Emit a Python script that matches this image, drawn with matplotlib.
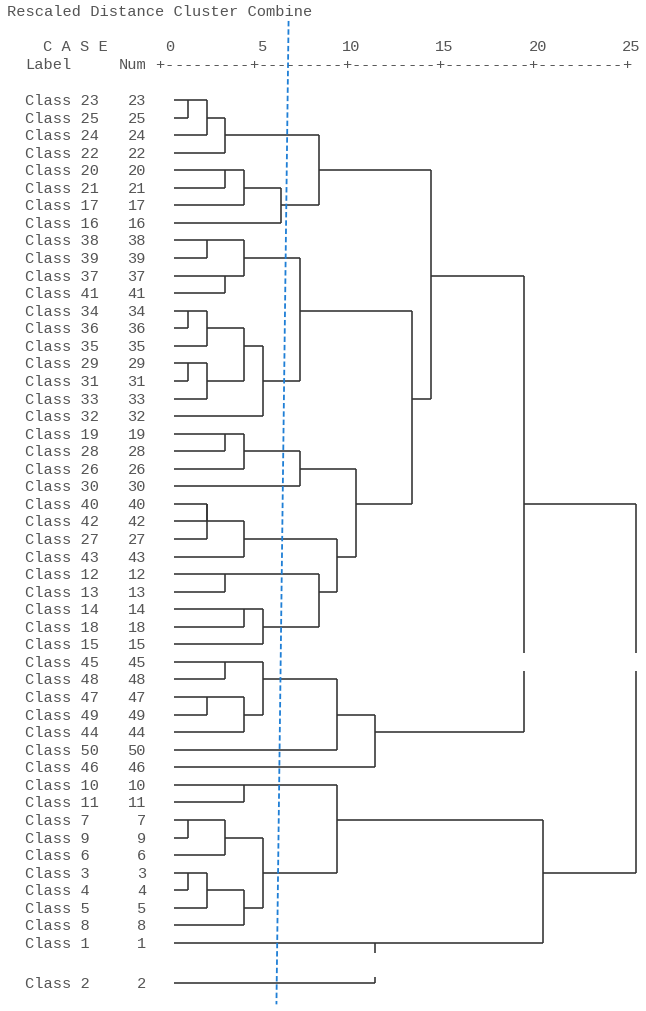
import matplotlib
matplotlib.use("Agg")
import matplotlib.pyplot as plt
import numpy as np

# ---------------- data ----------------
leaf_order = [23, 25, 24, 22, 20, 21, 17, 16, 38, 39, 37, 41, 34, 36, 35, 29, 31, 33, 32,
              19, 28, 26, 30, 40, 42, 27, 43, 12, 13, 14, 18, 15, 45, 48, 47, 49, 44, 50,
              46, 10, 11, 7, 9, 6, 3, 4, 5, 8, 1, 2]

# merges: (child a, child b, rescaled distance); "mK" refers to the K-th merge
merges = [
    ("23", "25", 1.5), ("m0", "24", 2.5), ("m1", "22", 3.5),
    ("20", "21", 3.5), ("m3", "17", 4.5), ("m4", "16", 6.5),
    ("m2", "m5", 8.5),
    ("38", "39", 2.5), ("37", "41", 3.5), ("m7", "m8", 4.5),
    ("34", "36", 1.5), ("m10", "35", 2.5), ("29", "31", 1.5), ("m12", "33", 2.5),
    ("m11", "m13", 4.5), ("m14", "32", 5.5), ("m9", "m15", 7.5),
    ("19", "28", 3.5), ("m17", "26", 4.5), ("m18", "30", 7.5),
    ("40", "42", 2.5), ("m20", "27", 2.5), ("m21", "43", 4.5),
    ("12", "13", 3.5), ("14", "18", 4.5), ("m24", "15", 5.5), ("m23", "m25", 8.5),
    ("m22", "m26", 9.5), ("m19", "m27", 10.5), ("m16", "m28", 13.5), ("m6", "m29", 14.5),
    ("45", "48", 3.5), ("47", "49", 2.5), ("m32", "44", 4.5), ("m31", "m33", 5.5),
    ("m34", "50", 9.5), ("m35", "46", 11.5),
    ("10", "11", 4.5), ("7", "9", 1.5), ("m38", "6", 3.5), ("3", "4", 1.5),
    ("m40", "5", 2.5), ("m41", "8", 4.5), ("m39", "m42", 5.5), ("m37", "m43", 9.5),
    ("1", "2", 11.5), ("m44", "m45", 20.5), ("m30", "m36", 19.5), ("m47", "m46", 25.5),
]

tick_values = [0, 5, 10, 15, 20, 25]
cut_line_x = [6.89, 6.24]          # dashed threshold line (top, bottom)
cut_line_y = [-4.5, 51.5]
extra_gap_rows = {"2": 1.26}       # class 2 shown a little lower
breaks = [(31.49, 32.52), (48.58, 49.94)]  # bands where long verticals are broken

# ---------------- layout ----------------
W, H = 646, 1012
px_unit = 18.66
x0_px = 160.0
row0_px, row_px = 101.0, 17.56
leaf_start = 0.75

fig = plt.figure(figsize=(W / 100, H / 100), dpi=100)
ax = fig.add_axes([0, 0, 1, 1])
ax.set_xlim(-x0_px / px_unit, (W - x0_px) / px_unit)
ax.set_ylim((H - row0_px) / row_px, -row0_px / row_px)
ax.axis("off")

line_kw = dict(color="#333333", lw=1.15, solid_capstyle="butt")
font = dict(family=["Liberation Mono", "DejaVu Sans Mono"], size=11.1, color="#555555")

# row index of each leaf and display position
idx = {str(l): i for i, l in enumerate(leaf_order)}
ypos = {}
for i, l in enumerate(leaf_order):
    ypos[i] = i + extra_gap_rows.get(str(l), 0.0)

node_row = dict(idx)
node_h = {str(l): leaf_start for l in leaf_order}
parent_h = {}
for k, (a, b, h) in enumerate(merges):
    name = f"m{k}"
    ra, rb = node_row[a], node_row[b]
    top, bot = min(ra, rb), max(ra, rb)
    node_row[name] = (top + bot) // 2
    node_h[name] = h
    parent_h[a] = h
    parent_h[b] = h
    # vertical segment (with breaks)
    ya, yb = ypos[top], ypos[bot]
    segs = [(ya, yb)]
    for lo, hi in breaks:
        new = []
        for s0, s1 in segs:
            if s0 < lo and s1 > hi:
                new += [(s0, lo), (hi, s1)]
            else:
                new.append((s0, s1))
        segs = new
    for s0, s1 in segs:
        ax.plot([h, h], [s0, s1], **line_kw)

# horizontal segments
for name, ph in parent_h.items():
    y = ypos[node_row[name]]
    ax.plot([node_h[name], ph], [y, y], **line_kw)

# leaf labels
for i, l in enumerate(leaf_order):
    ax.text(-7.21, ypos[i], f"Class {l}", ha="left", va="center", **font)
    ax.text(-0.75, ypos[i], f"{l}", ha="right", va="center", **font)

# header
ax.text(-8.18, -5.07, "Rescaled Distance Cluster Combine", ha="left", va="center", **font)
ax.text(-6.27, -3.07, "C A S E", ha="left", va="center", **font)
ax.text(-7.21, -2.05, "Label", ha="left", va="center", **font)
ax.text(-0.75, -2.05, "Num", ha="right", va="center", **font)
for t in tick_values:
    ax.text(t + 0.75, -3.07, str(t), ha="right", va="center", **font)
for x in np.arange(0, 25.01, 0.5):
    ch = "+" if abs(x / 5 - round(x / 5)) < 1e-9 else "-"
    ax.text(x, -2.05, ch, ha="center", va="center", **font)

# threshold line
ax.plot(cut_line_x, cut_line_y, color="#1f7fd6", lw=1.3, ls=(0, (3, 1.6)))

fig.savefig("out.png", dpi=100)
